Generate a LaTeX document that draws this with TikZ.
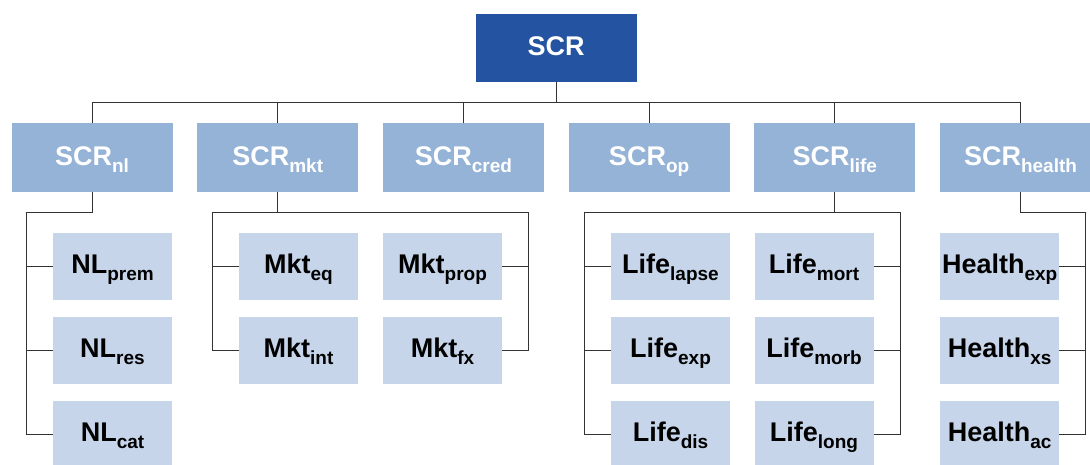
\documentclass[tikz,border=0pt]{standalone}
\usepackage{fontspec}
\setmainfont{Liberation Sans}
\definecolor{scrtop}{HTML}{2353A1}
\definecolor{scrmod}{HTML}{95B3D7}
\definecolor{scrsub}{HTML}{C6D5EA}
\newcommand{\lowsub}[1]{\raisebox{-7pt}{\fontsize{19}{19}\selectfont #1}}
\tikzset{
  box/.style={inner sep=0pt, text height=20pt, text depth=5pt, font=\fontsize{27}{27}\selectfont\bfseries},
  topbox/.style={box, fill=scrtop, text=white, minimum width=161pt, minimum height=67.7pt},
  modbox/.style={box, fill=scrmod, text=white, minimum width=161pt, minimum height=68.4pt},
  subbox/.style={box, fill=scrsub, text=black, minimum width=119pt, minimum height=67.3pt},
  link/.style={draw=black!80, line width=0.9pt}
}
\begin{document}
\begin{tikzpicture}[x=1pt,y=1pt]
	\clip (0,0) rectangle (1090,-464);
	% top
	\node [topbox] (scr) at (556,-47.9) {SCR};
	% modules
	\node [modbox] (nl) at (92,-157.5) {SCR\lowsub{nl}};
	\node [modbox] (mkt) at (277.7,-157.5) {SCR\lowsub{mkt}};
	\node [modbox] (cred) at (463.4,-157.5) {SCR\lowsub{cred}};
	\node [modbox] (op) at (649.1,-157.5) {SCR\lowsub{op}};
	\node [modbox] (life) at (834.8,-157.5) {SCR\lowsub{life}};
	\node [modbox] (health) at (1020.5,-157.5) {SCR\lowsub{health}};
	% sub-modules
	\node [subbox] (nlprem) at (112.5,-266.3) {NL\lowsub{prem}};
	\node [subbox] (nlres) at (112.5,-350.3) {NL\lowsub{res}};
	\node [subbox] (nlcat) at (112.5,-434.3) {NL\lowsub{cat}};
	\node [subbox] (mkteq) at (298.5,-266.3) {Mkt\lowsub{eq}};
	\node [subbox] (mktint) at (298.5,-350.3) {Mkt\lowsub{int}};
	\node [subbox] (mktprop) at (442.5,-266.3) {Mkt\lowsub{prop}};
	\node [subbox] (mktfx) at (442.5,-350.3) {Mkt\lowsub{fx}};
	\node [subbox] (lifelapse) at (670.5,-266.3) {Life\lowsub{lapse}};
	\node [subbox] (lifeexp) at (670.5,-350.3) {Life\lowsub{exp}};
	\node [subbox] (lifedis) at (670.5,-434.3) {Life\lowsub{dis}};
	\node [subbox] (lifemort) at (814,-266.3) {Life\lowsub{mort}};
	\node [subbox] (lifemorb) at (814,-350.3) {Life\lowsub{morb}};
	\node [subbox] (lifelong) at (814,-434.3) {Life\lowsub{long}};
	\node [subbox] (healthexp) at (999.7,-266.3) {Health\lowsub{exp}};
	\node [subbox] (healthxs) at (999.7,-350.3) {Health\lowsub{xs}};
	\node [subbox] (healthac) at (999.7,-434.3) {Health\lowsub{ac}};
	% bus corners
	\coordinate (nlbus) at (26.8,-212.7);
	\coordinate (mktl) at (212.4,-212.7);
	\coordinate (mktr) at (528.3,-212.7);
	\coordinate (lifel) at (584.3,-212.7);
	\coordinate (lifer) at (900,-212.7);
	\coordinate (healthr) at (1085.5,-212.7);
	% connectors
	\foreach \m in {nl,mkt,cred,op,life,health}
		\draw [link] (scr.south) -- ++(0,-20.6) -| (\m.north);
	\foreach \s in {nlprem,nlres,nlcat}
		\draw [link] (nl.south) |- (nlbus) |- (\s.west);
	\foreach \s in {mkteq,mktint}
		\draw [link] (mkt.south) |- (mktl) |- (\s.west);
	\foreach \s in {mktprop,mktfx}
		\draw [link] (mkt.south) |- (mktr) |- (\s.east);
	\foreach \s in {lifelapse,lifeexp,lifedis}
		\draw [link] (life.south) |- (lifel) |- (\s.west);
	\foreach \s in {lifemort,lifemorb,lifelong}
		\draw [link] (life.south) |- (lifer) |- (\s.east);
	\foreach \s in {healthexp,healthxs,healthac}
		\draw [link] (health.south) |- (healthr) |- (\s.east);
\end{tikzpicture}
\end{document}
